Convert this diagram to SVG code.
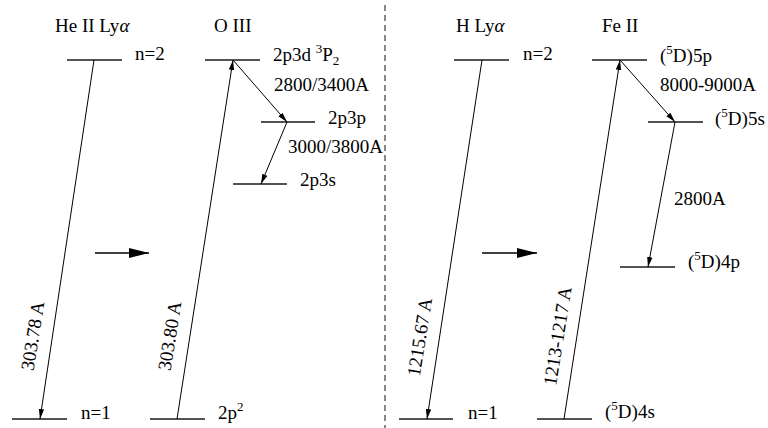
<svg xmlns="http://www.w3.org/2000/svg" width="768" height="428" viewBox="0 0 768 428" font-family="'Liberation Serif', 'Times New Roman', Times, 'DejaVu Serif', serif">
<style>
text{font-family:'Liberation Serif','Times New Roman',Times,'DejaVu Serif',serif;font-size:19px;fill:#000}
.lv{stroke:#1a1a1a;stroke-width:1.5;fill:none}
.tr{stroke:#000;stroke-width:1;fill:none;marker-end:url(#ah)}
.big{stroke:#000;stroke-width:1.3;fill:none;marker-end:url(#bh)}
.sup{font-size:13px}
</style>
<defs>
<marker id="ah" viewBox="0 0 10 6" refX="10" refY="3" markerWidth="10" markerHeight="6" markerUnits="userSpaceOnUse" orient="auto">
<path d="M0,0.3 L10,3 L0,5.7 Z" fill="#000"/>
</marker>
<marker id="bh" viewBox="0 0 20 10" refX="20" refY="5" markerWidth="20" markerHeight="10" markerUnits="userSpaceOnUse" orient="auto">
<path d="M0,0 L20,5 L0,10 Z" fill="#000"/>
</marker>
</defs>

<line x1="385" y1="5" x2="385" y2="428" stroke="#888" stroke-width="2" stroke-dasharray="6,4"/>

<g id="heII">
<text x="55" y="32">He II Ly<tspan font-style="italic">α</tspan></text>
<line class="lv" x1="67" y1="60" x2="122" y2="60"/>
<text x="135" y="60">n=2</text>
<line class="lv" x1="12" y1="419" x2="67" y2="419"/>
<text x="81" y="419">n=1</text>
</g>

<g id="oIII">
<text x="214" y="32">O III</text>
<line class="lv" x1="205" y1="60" x2="260" y2="60"/>
<text x="273" y="61">2p3d <tspan class="sup" dy="-8">3</tspan><tspan dy="8">P</tspan><tspan class="sup" dy="4">2</tspan></text>
<line class="lv" x1="261" y1="122" x2="315" y2="122"/>
<text x="328" y="124">2p3p</text>
<line class="lv" x1="233" y1="184" x2="287" y2="184"/>
<text x="300" y="186">2p3s</text>
<line class="lv" x1="150" y1="419" x2="205" y2="419"/>
<text x="218" y="419">2p<tspan class="sup" dy="-8">2</tspan></text>
</g>

<g id="hLya">
<text x="456" y="32">H Ly<tspan font-style="italic">α</tspan></text>
<line class="lv" x1="454" y1="60" x2="509" y2="60"/>
<text x="523" y="60">n=2</text>
<line class="lv" x1="399" y1="419" x2="453" y2="419"/>
<text x="468" y="419">n=1</text>
</g>

<g id="feII">
<text x="602" y="32">Fe II</text>
<line class="lv" x1="592" y1="60" x2="647" y2="60"/>
<text x="660" y="62">(<tspan class="sup" dy="-8">5</tspan><tspan dy="8">D)5p</tspan></text>
<line class="lv" x1="648" y1="122" x2="703" y2="122"/>
<text x="715" y="125">(<tspan class="sup" dy="-8">5</tspan><tspan dy="8">D)5s</tspan></text>
<line class="lv" x1="620" y1="267" x2="675" y2="267"/>
<text x="688" y="268">(<tspan class="sup" dy="-8">5</tspan><tspan dy="8">D)4p</tspan></text>
<line class="lv" x1="537" y1="419" x2="592" y2="419"/>
<text x="605" y="418">(<tspan class="sup" dy="-8">5</tspan><tspan dy="8">D)4s</tspan></text>
</g>

<g id="connectors">
<line class="tr" x1="94" y1="60" x2="40" y2="419"/>
<line class="tr" x1="177" y1="419" x2="233" y2="60"/>
<line class="tr" x1="233" y1="60" x2="287" y2="122"/>
<line class="tr" x1="287" y1="122" x2="261" y2="184"/>
<line class="big" x1="95" y1="253" x2="149" y2="253"/>

<line class="tr" x1="482" y1="60" x2="427" y2="419"/>
<line class="tr" x1="564" y1="419" x2="620" y2="60"/>
<line class="tr" x1="620" y1="60" x2="675" y2="122"/>
<line class="tr" x1="675" y1="122" x2="648" y2="267"/>
<line class="big" x1="482" y1="253" x2="537" y2="253"/>

<text x="274" y="91">2800/3400A</text>
<text x="288" y="153">3000/3800A</text>
<text x="660" y="91">8000-9000A</text>
<text x="674" y="205">2800A</text>

<text transform="translate(33,336) rotate(-81)" x="0" y="6" text-anchor="middle">303.78 A</text>
<text transform="translate(170,336) rotate(-81)" x="0" y="6" text-anchor="middle">303.80 A</text>
<text transform="translate(420,337) rotate(-81)" x="0" y="6" text-anchor="middle">1215.67 A</text>
<text transform="translate(558,336) rotate(-81)" x="0" y="6" text-anchor="middle">1213-1217 A</text>
</g>
</svg>
